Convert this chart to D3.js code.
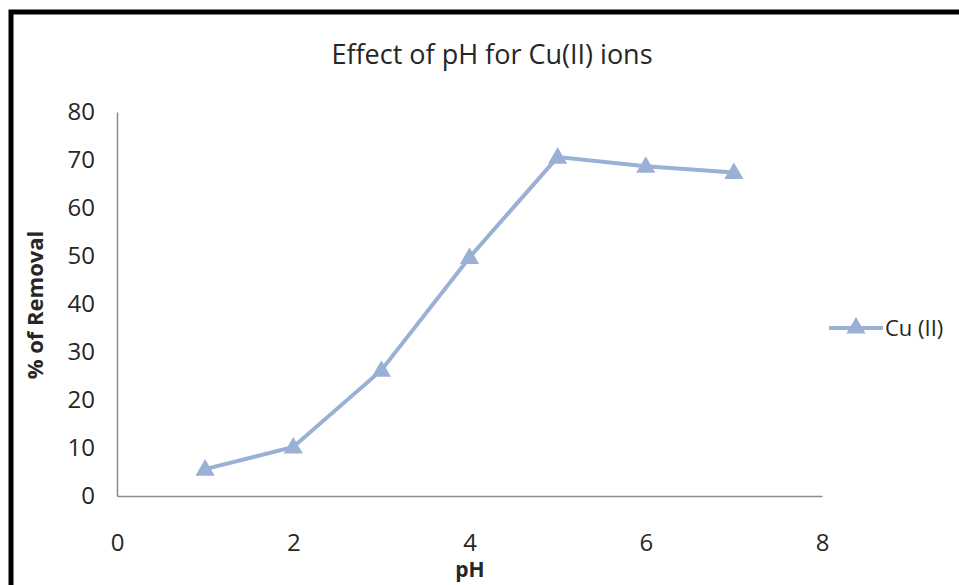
<!DOCTYPE html>
<html>
<head>
<meta charset="utf-8">
<script src="https://cdn.jsdelivr.net/npm/d3@7"></script>
<style>
  body { margin: 0; background: #fff; }
  svg text { font-family: "Open Sans", "Noto Sans", sans-serif; fill: #262626; }
</style>
</head>
<body>
<div id="chart"></div>
<script>
var width = 959;
var height = 585;

// data
var phValues = [1, 2, 3, 4, 5, 6, 7];
var removal = [5.6, 10.2, 26.2, 49.7, 70.6, 68.7, 67.4];
var xTicks = [0, 2, 4, 6, 8];
var yTicks = [0, 10, 20, 30, 40, 50, 60, 70, 80];
var seriesName = "Cu (II)";

var lineColor = "#9bb0d5";

var svg = d3.select("#chart").append("svg")
    .attr("width", width)
    .attr("height", height);

// outer frame
svg.append("rect")
    .attr("x", 11)
    .attr("y", 12)
    .attr("width", 1000)
    .attr("height", 700)
    .attr("fill", "none")
    .attr("stroke", "#000")
    .attr("stroke-width", 5);

var xScale = d3.scaleLinear().domain([0, 8]).range([117, 822]);
var yScale = d3.scaleLinear().domain([0, 80]).range([496, 112]);

var xAxis = d3.axisBottom(xScale).tickValues(xTicks).tickSize(0).tickPadding(38);
var yAxis = d3.axisLeft(yScale).tickValues(yTicks).tickSize(0).tickPadding(22);

var gx = svg.append("g")
    .attr("transform", "translate(0," + yScale(0) + ")")
    .call(xAxis);
var gy = svg.append("g")
    .attr("transform", "translate(" + xScale(0) + ",0)")
    .call(yAxis);

[gx, gy].forEach(function(g) {
    g.select(".domain").attr("stroke", "#8c8c8c").attr("stroke-width", 1.5);
    g.selectAll("text")
        .style("font-size", "24px")
        .style("fill", "#262626")
        .style("font-family", "'Open Sans', sans-serif");
});

// title
svg.append("text")
    .attr("x", 492)
    .attr("y", 64)
    .attr("text-anchor", "middle")
    .style("font-size", "27px")
    .text("Effect of pH for Cu(II) ions");

// axis labels
svg.append("text")
    .attr("x", 470)
    .attr("y", 577)
    .attr("text-anchor", "middle")
    .style("font-size", "21px")
    .style("font-weight", "bold")
    .text("pH");

svg.append("text")
    .attr("transform", "translate(43,305) rotate(-90)")
    .attr("text-anchor", "middle")
    .style("font-size", "22px")
    .style("font-weight", "bold")
    .text("% of Removal");

var data = phValues.map(function(p, i) { return { x: p, y: removal[i] }; });

var line = d3.line()
    .x(function(d) { return xScale(d.x); })
    .y(function(d) { return yScale(d.y); });

svg.append("path")
    .datum(data)
    .attr("fill", "none")
    .attr("stroke", lineColor)
    .attr("stroke-width", 4)
    .attr("d", line);

var tri = d3.symbol().type(d3.symbolTriangle).size(160);

svg.selectAll(".marker")
    .data(data)
    .enter()
    .append("path")
    .attr("class", "marker")
    .attr("transform", function(d) {
        return "translate(" + xScale(d.x) + "," + (yScale(d.y) + 1) + ")";
    })
    .attr("d", tri)
    .attr("fill", lineColor);

// legend
var legend = svg.append("g").attr("transform", "translate(829,328)");
legend.append("line")
    .attr("x1", 0).attr("x2", 54)
    .attr("y1", 0).attr("y2", 0)
    .attr("stroke", lineColor)
    .attr("stroke-width", 4);
legend.append("path")
    .attr("transform", "translate(27,0)")
    .attr("d", tri)
    .attr("fill", lineColor);
legend.append("text")
    .attr("x", 56)
    .attr("y", 8)
    .style("font-size", "22px")
    .text(seriesName);
</script>
</body>
</html>
